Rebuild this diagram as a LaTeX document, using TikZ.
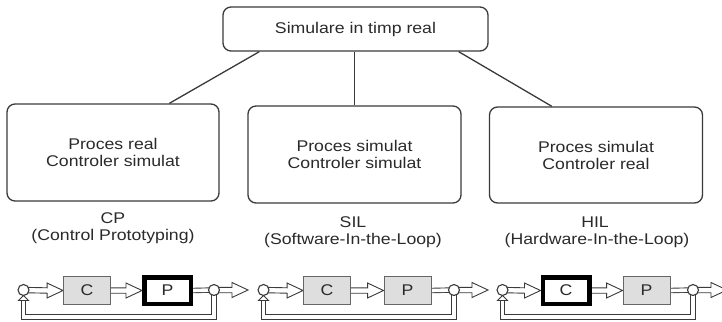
\documentclass[tikz,border=0pt]{standalone}
\usepackage{fontspec}
\setmainfont{Liberation Sans}
\usetikzlibrary{calc,backgrounds}
\definecolor{ink}{HTML}{2A2A2A}
\definecolor{wire}{HTML}{3A3A3A}
% horizontally widened text
\newcommand\sx[1]{\scalebox{1.14}[1]{#1}}
% hollow block arrow from #1 to #2 (horizontal)
\newcommand\harrow[2]{%
  \path[outline] ($(#1)+(0,-2.7)$) -- ($(#2)+(-16,-2.7)$) -- ($(#2)+(-16,-7.5)$)
    -- (#2) -- ($(#2)+(-16,7.5)$) -- ($(#2)+(-16,2.7)$) -- ($(#1)+(0,2.7)$);}
% one closed loop: #1 x-offset, #2 name prefix, #3 style of C, #4 style of P
\newcommand\loopdiag[4]{%
  \begin{scope}[xshift=#1]
    \node[sumpt] (#2in) at (23.5,290) {};
    \node[#3] (#2c) at (87,290.5) {\sx{C}};
    \node[#4] (#2p) at (167.5,290.5) {\sx{P}};
    \node[sumpt] (#2out) at (214,290) {};
    \coordinate (#2y) at (248,290);
    \coordinate (#2fb) at (23.5,317);
    \coordinate (#2tip) at (23.5,295.5);
    \begin{pgfonlayer}{background}
      \harrow{#2in.center}{#2c.west}
      \harrow{#2c.east}{#2p.west}
      \draw[dbl] (#2p.east) -- (#2out.center);
      \harrow{#2out.center}{#2y}
      \draw[dbl] (#2out.center) -- (#2out.center |- #2fb) -- (#2fb) -- ($(#2tip)+(0,5)$);
    \end{pgfonlayer}
    \path[outline] ($(#2tip)+(-5,5)$) -- (#2tip) -- ($(#2tip)+(5,5)$) -- cycle;
  \end{scope}}

\begin{document}
\begin{tikzpicture}[x=1pt,y=-1pt,
  every node/.style={font=\fontsize{15.5}{17}\selectfont, text=ink},
  rbox/.style={draw=wire, line width=1.3pt, rounded corners=8pt, align=center, inner sep=0pt},
  link/.style={draw=wire, line width=1.3pt},
  sumpt/.style={circle, draw=wire, fill=white, line width=1.1pt, minimum size=11pt, inner sep=0pt},
  simblock/.style={draw=black!60, fill=black!13, line width=0.9pt, minimum width=47pt, minimum height=28pt, inner sep=0pt},
  realblock/.style={draw=black, fill=white, line width=4.5pt, minimum width=46.5pt, minimum height=26.5pt, inner sep=0pt},
  outline/.style={draw=wire, line width=0.9pt, fill=white, line join=miter},
  dbl/.style={draw=wire, line width=0.9pt, double=white, double distance=3.6pt},
]
\useasboundingbox (0,0) rectangle (722,321);

% hierarchy
\node[rbox, minimum width=265pt, minimum height=44pt] (top) at (355.5,29) {\sx{Simulare in timp real}};
\node[rbox, minimum width=212pt, minimum height=97pt] (cp) at (113,152.5) {\sx{Proces real}\\\sx{Controler simulat}};
\node[rbox, minimum width=213pt, minimum height=97pt] (sil) at (354.5,154.5) {\sx{Proces simulat}\\\sx{Controler simulat}};
\node[rbox, minimum width=213pt, minimum height=96pt] (hil) at (596,155) {\sx{Proces simulat}\\\sx{Controler real}};

\draw[link] ($(top.south west)+(37,0)$) -- ($(cp.north west)+(163,0)$);
\draw[link] (top.south -| sil.north) -- (sil.north);
\draw[link] ($(top.south east)+(-30,0)$) -- ($(hil.north west)+(63,0)$);

% captions
\node (cpA) at (113,218) {\sx{CP}};
\node (cpB) at (113,236) {\sx{(Control Prototyping)}};
\node (silA) at (353,222) {\sx{SIL}};
\node (silB) at (353,240) {\sx{(Software-In-the-Loop)}};
\node (hilA) at (595,222) {\sx{HIL}};
\node (hilB) at (597,240) {\sx{(Hardware-In-the-Loop)}};

% control loops
\loopdiag{0}{a}{simblock}{realblock}
\loopdiag{240}{b}{simblock}{simblock}
\loopdiag{479}{c}{realblock}{simblock}
\end{tikzpicture}
\end{document}
